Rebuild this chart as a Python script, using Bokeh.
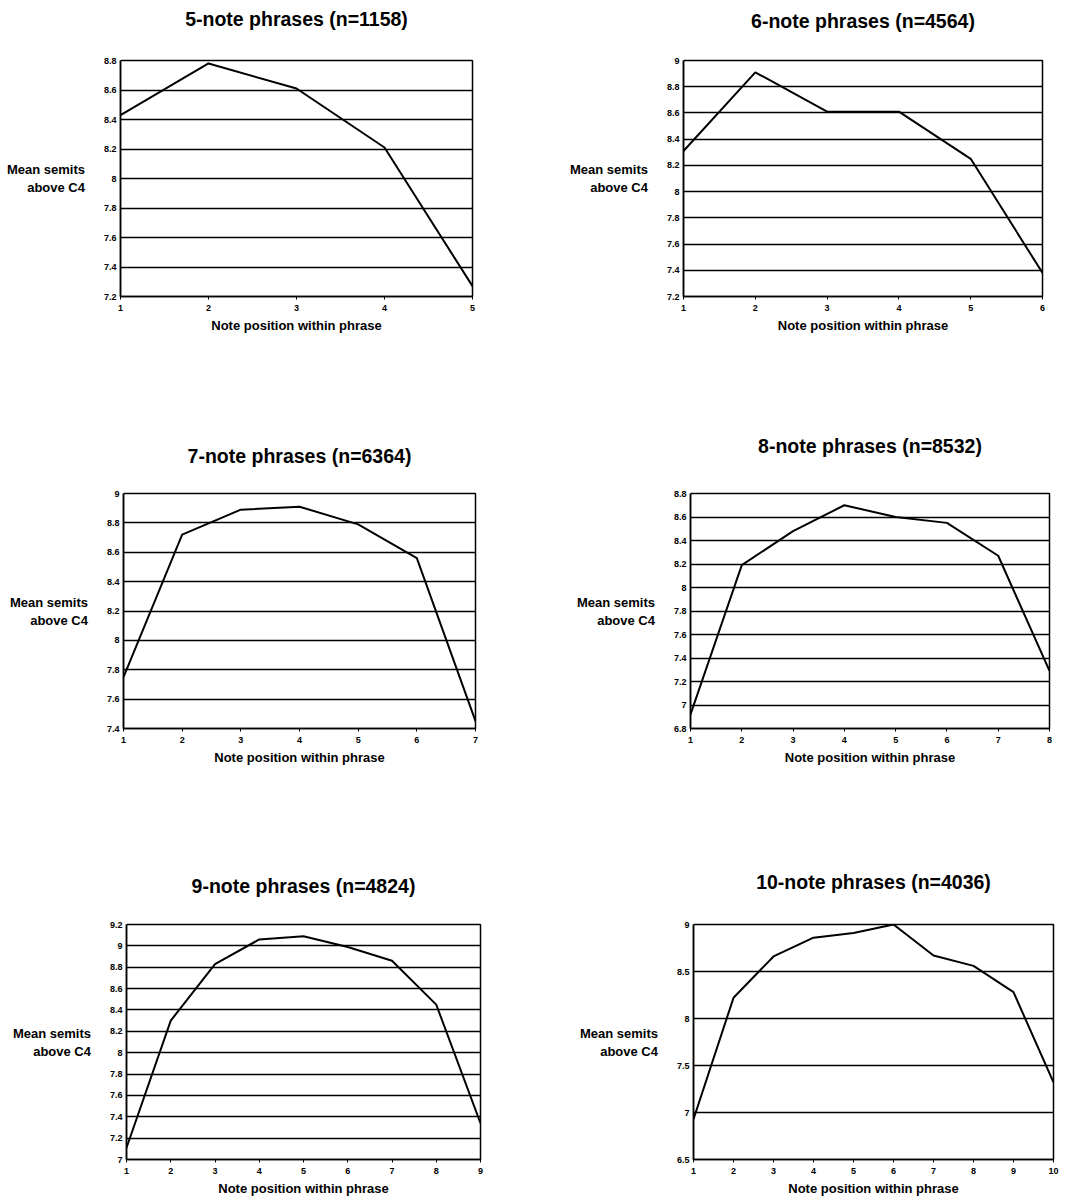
from bokeh.plotting import figure
from bokeh.layouts import column, row
from bokeh.models import Range1d, FixedTicker, LinearAxis
from bokeh.embed import file_html
from bokeh.resources import INLINE

# ---------------- data ----------------
titles = ["5-note phrases (n=1158)", "6-note phrases (n=4564)",
          "7-note phrases (n=6364)", "8-note phrases (n=8532)",
          "9-note phrases (n=4824)", "10-note phrases (n=4036)"]

mean5 = [8.43, 8.78, 8.61, 8.21, 7.27]
mean6 = [8.31, 8.91, 8.61, 8.61, 8.25, 7.38]
mean7 = [7.75, 8.72, 8.89, 8.91, 8.79, 8.56, 7.45]
mean8 = [6.92, 8.19, 8.48, 8.70, 8.60, 8.55, 8.27, 7.29]
mean9 = [7.11, 8.30, 8.83, 9.06, 9.09, 8.99, 8.86, 8.45, 7.34]
mean10 = [6.93, 8.22, 8.66, 8.86, 8.91, 9.00, 8.67, 8.56, 8.28, 7.32]

yticks5 = [7.2, 7.4, 7.6, 7.8, 8.0, 8.2, 8.4, 8.6, 8.8]
yticks6 = [7.2, 7.4, 7.6, 7.8, 8.0, 8.2, 8.4, 8.6, 8.8, 9.0]
yticks7 = [7.4, 7.6, 7.8, 8.0, 8.2, 8.4, 8.6, 8.8, 9.0]
yticks8 = [6.8, 7.0, 7.2, 7.4, 7.6, 7.8, 8.0, 8.2, 8.4, 8.6, 8.8]
yticks9 = [7.0, 7.2, 7.4, 7.6, 7.8, 8.0, 8.2, 8.4, 8.6, 8.8, 9.0, 9.2]
yticks10 = [6.5, 7.0, 7.5, 8.0, 8.5, 9.0]

x_label = "Note position within phrase"
y_label = "Mean semits\nabove C4"

FONT = "Liberation Sans"


def make_panel(values, yticks, title, width, height, bl, br, bt, bb, gap):
    n = len(values)
    positions = list(range(1, n + 1))
    p = figure(width=width, height=height, output_backend="svg",
               toolbar_location=None, tools="",
               x_range=Range1d(1, n), y_range=Range1d(yticks[0], yticks[-1]),
               min_border_left=bl, min_border_right=br,
               min_border_top=bt, min_border_bottom=bb)

    p.title.text = title
    p.title.align = "center"
    p.title.standoff = 4
    p.title.text_font = FONT
    p.title.text_font_style = "bold"
    p.title.text_font_size = "19.5px"
    p.title.text_color = "black"

    p.line(positions, values, line_color="black", line_width=2)

    main_x = p.below[0]
    main_y = p.left[0]
    main_x.ticker = FixedTicker(ticks=positions)
    main_y.ticker = FixedTicker(ticks=yticks)
    main_y.major_label_overrides = {t: f"{t:g}" for t in yticks}

    for ax in (main_x, main_y):
        ax.major_label_text_font = FONT
        ax.major_label_text_font_style = "bold"
        ax.major_label_text_font_size = "9px"
        ax.major_label_text_color = "black"
        ax.axis_label_text_font = FONT
        ax.axis_label_text_font_style = "bold"
        ax.axis_label_text_font_size = "13px"
        ax.axis_label_text_color = "black"
        ax.axis_line_color = "black"
        ax.axis_line_width = 1.5
        ax.minor_tick_line_color = None
        ax.major_tick_in = 0

    main_x.major_tick_out = 3
    main_x.major_tick_line_color = "black"
    main_x.major_label_standoff = 5
    main_x.axis_label = x_label
    main_x.axis_label_standoff = 4

    main_y.major_tick_out = 0
    main_y.major_tick_line_color = None
    main_y.major_label_standoff = 4
    main_y.axis_label = y_label
    main_y.axis_label_orientation = "horizontal"
    main_y.axis_label_standoff = 16

    # invisible spacer axis between the frame and the title
    spacer = LinearAxis(ticker=FixedTicker(ticks=positions[:1]),
                        axis_line_color=None,
                        major_tick_line_color="white",
                        minor_tick_line_color=None,
                        major_tick_in=0, major_tick_out=gap,
                        major_label_standoff=0,
                        major_label_text_color=None,
                        major_label_text_font_size="1px")
    p.add_layout(spacer, "above")

    p.xgrid.grid_line_color = None
    p.ygrid.grid_line_color = "black"
    p.ygrid.grid_line_width = 1.5
    p.ygrid.grid_line_alpha = 1.0

    p.outline_line_color = "black"
    p.outline_line_width = 1.5
    p.outline_line_alpha = 1.0
    p.background_fill_color = "white"
    p.border_fill_color = "white"
    return p


p1 = make_panel(mean5, yticks5, titles[0], 540, 430, 120, 68, 60, 134, 29)
p2 = make_panel(mean6, yticks6, titles[1], 536, 430, 143, 34, 60, 134, 27)
p3 = make_panel(mean7, yticks7, titles[2], 540, 430, 123, 65, 63, 132, 25)
p4 = make_panel(mean8, yticks8, titles[3], 536, 430, 150, 27, 63, 132, 35)
p5 = make_panel(mean9, yticks9, titles[4], 540, 341, 126, 60, 64, 42, 26)
p6 = make_panel(mean10, yticks10, titles[5], 536, 341, 153, 23, 64, 42, 30)

layout = column(row(p1, p2), row(p3, p4), row(p5, p6))

open("out.html", "w").write(file_html(layout, INLINE))
